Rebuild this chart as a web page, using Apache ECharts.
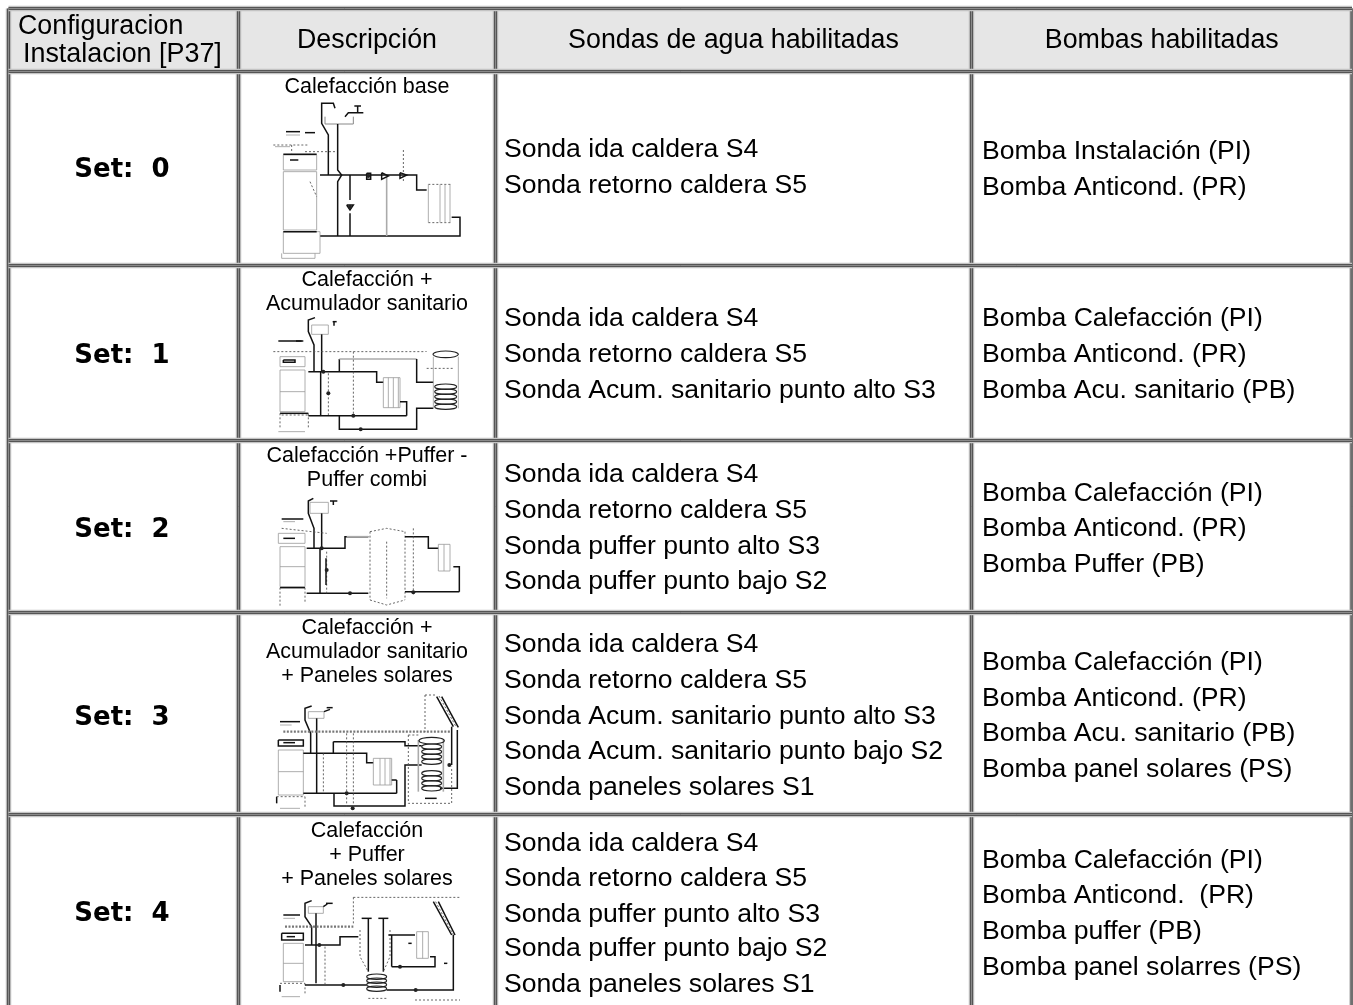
<!DOCTYPE html>
<html><head><meta charset="utf-8">
<style>html,body{margin:0;padding:0;background:#fff;overflow:hidden}#c{width:1353px;height:1005px;filter:blur(0.45px)}</style>
<script src="https://cdn.jsdelivr.net/npm/echarts@6/dist/echarts.min.js"></script></head>
<body><div id="c"></div>
<script>
// ---- table content ----
const headerTitles = ['Descripción','Sondas de agua habilitadas','Bombas habilitadas'];
const headerFirst = ['Configuracion','Instalacion [P37]'];
const setLabels = ['Set:  0','Set:  1','Set:  2','Set:  3','Set:  4'];
const descriptions = [
  ['Calefacción base'],
  ['Calefacción +','Acumulador sanitario'],
  ['Calefacción +Puffer -','Puffer combi'],
  ['Calefacción +','Acumulador sanitario','+ Paneles solares'],
  ['Calefacción','+ Puffer','+ Paneles solares']
];
const sondas = [
  ['Sonda ida caldera S4','Sonda retorno caldera S5'],
  ['Sonda ida caldera S4','Sonda retorno caldera S5','Sonda Acum. sanitario punto alto S3'],
  ['Sonda ida caldera S4','Sonda retorno caldera S5','Sonda puffer punto alto S3','Sonda puffer punto bajo S2'],
  ['Sonda ida caldera S4','Sonda retorno caldera S5','Sonda Acum. sanitario punto alto S3','Sonda Acum. sanitario punto bajo S2','Sonda paneles solares S1'],
  ['Sonda ida caldera S4','Sonda retorno caldera S5','Sonda puffer punto alto S3','Sonda puffer punto bajo S2','Sonda paneles solares S1']
];
const bombas = [
  ['Bomba Instalación (PI)','Bomba Anticond. (PR)'],
  ['Bomba Calefacción (PI)','Bomba Anticond. (PR)','Bomba Acu. sanitario (PB)'],
  ['Bomba Calefacción (PI)','Bomba Anticond. (PR)','Bomba Puffer (PB)'],
  ['Bomba Calefacción (PI)','Bomba Anticond. (PR)','Bomba Acu. sanitario (PB)','Bomba panel solares (PS)'],
  ['Bomba Calefacción (PI)','Bomba Anticond.  (PR)','Bomba puffer (PB)','Bomba panel solarres (PS)']
];
// ---- table grid, in axis units ----
const colEdges = [8.5,238.5,495.5,971.5,1352];
const rowEdges = [8.5,71.5,265.5,440.5,612.5,814.5];
const axisEnd = 1005;
const setY = [170,356,530,718,914];
const descY = [[87],[280,304],[456,480],[628,652,676],[831,855,879]];
const sondasY = [[150,186],[319,355,391],[475,511,547,582],[645,681,717,752,788],[844,879,915,949,985]];
const bombasY = [[152,188],[319,355,391],[494,529,565],[663,699,734,770],[861,896,932,968]];

// ---- schematics: [pen, x,y, x,y, ...] read from a 3x view of each description cell ----
const diagram0 = [
 ['k',965,345,965,310,1000,310,1005,325],['k',965,345,965,370,985,405,985,525],
 ['g',975,350,975,372,1060,372,1060,350],['k',1035,350,1045,338,1090,338],['k',1063,318,1083,318],['k',1073,318,1073,338],
 ['k',1013,372,1013,510,1025,525,1013,545,1013,708],
 ['k',960,525,1250,525,1250,570,1280,570],['k',960,708,1380,708,1380,652,1355,652],
 ['k',1050,525,1050,600],['k',1050,640,1050,708],['k',1040,615,1060,615,1050,630,1040,615],
 ['m',1160,525,1160,708],['d',1210,450,1210,525],['d',1210,525,1210,545],
 ['k',1145,518,1165,528,1145,538,1145,518],['k',1200,518,1220,525,1200,535,1200,518],
 ['l',850,515,950,515,950,690,850,690,850,515],['l',850,695,960,695,960,760,850,760,850,695],
 ['l',850,465,950,465,950,510,850,510,850,465],['k',850,463,950,463],['k',850,695,950,695],
 ['l',845,760,845,775,945,775,945,760],['d',930,545,950,590],['d',820,435,925,435],['d',875,435,875,460],['d',915,455,1005,455],
 ['k',858,395,900,395],['l',858,405,900,405],['k',915,398,945,398],['l',825,440,870,440],['k',870,480,895,480],
 ['d',1285,553,1355,553],['d',1285,668,1355,668],['l',1285,553,1285,668],['l',1320,553,1320,668],['l',1335,553,1335,668],['l',1350,553,1350,668],
 ['k',1100,520,1112,520,1112,538,1100,538,1100,520]
];
const diagram1 = [
 ['l',120,275,195,275,195,305,120,305,120,275],['k',130,285,165,285,165,292,130,292,130,285],
 ['l',120,315,195,315,195,440,120,440,120,315],['l',120,380,195,380],['k',120,445,205,445],['d',120,445,120,490],['d',205,445,205,490],['l',115,500,195,500],
 ['k',225,158,205,165,205,200,222,240,222,320],['l',215,180,265,180,265,208,215,208,215,180],['k',245,208,245,320],['k',242,320,242,452],['k',278,170,290,170],['k',282,170,282,182],
 ['k',205,320,410,320,410,352,430,352],['l',430,338,480,338,480,428,430,428,430,338],['l',445,338,445,428],['l',460,338,460,428],['l',475,338,475,428],
 ['k',480,410,500,410,500,452],['k',205,452,500,452],['k',298,282,298,320],['m',298,282,530,282],['k',530,282,530,352,580,352],
 ['k',298,452,298,493,530,493,530,430,580,430],['d',265,325,265,450],['k',262,385,270,385],['d',100,260,560,260],['d',340,260,340,452],
 ['l',580,275,580,430],['l',655,275,655,430],['d',560,310,640,310],['k',115,228,190,228],['k',168,228,185,228],['d',125,450,205,450]
];
const diagram1Ell = [[617,268,38,10],[617,365,33,8],[617,380,33,8],[617,395,33,8],[617,410,33,8],[617,425,33,8]];
const diagram1Dots = [[340,452],[362,493],[265,385],[250,320]];
const diagram2 = [
 ['l',115,805,195,805,195,835,115,835,115,805],['k',130,820,165,820],['l',120,845,195,845,195,965,120,965,120,845],['l',120,905,195,905],
 ['k',120,968,195,968],['d',120,968,120,1025],['d',195,968,195,1010],
 ['k',220,700,205,708,205,745,222,790,222,850],['l',210,712,265,712,265,745,210,745,210,712],['k',245,745,245,850],['k',240,850,240,985],['k',270,708,292,708],['k',280,708,280,720],
 ['k',200,850,315,850,315,815,385,815],['k',200,985,385,985],['m',320,815,385,815],
 ['d',390,800,390,1005],['d',495,800,495,1005],['d',390,800,440,790,495,800],['d',390,1005,440,1020,495,1005],
 ['d',440,830,440,1000],['k',495,815,565,815,565,850,595,850],['l',595,838,630,838,630,918,595,918,595,838],['l',612,838,612,918],
 ['k',640,905,658,905,658,980],['k',495,980,658,980],['d',260,860,260,985],['k',258,880,258,960],['d',520,790,520,990],['d',125,790,260,805],['k',125,762,190,762],['l',130,770,165,770]
];
const diagram2Dots = [[330,985],[520,982],[260,915],[245,850]];
const diagram3 = [
 ['k',115,390,190,390,190,408,115,408,115,390],['k',130,398,165,398],['l',115,420,190,420,190,555,115,555,115,420],['l',115,485,190,485],
 ['k',110,560,110,580],['d',110,560,195,560],['d',195,560,195,590],['l',120,595,180,595],
 ['k',215,288,195,295,195,330,212,370,212,430],['l',205,305,252,305,252,325,205,325,205,305],['k',252,305,270,298],['k',260,293,278,293],['k',230,325,230,550],
 ['k',190,430,380,430,380,458,400,458],['l',400,445,455,445,455,525,400,525,400,445],['l',420,445,420,525],['l',435,445,435,525],['l',450,445,450,525],
 ['k',470,510,470,550],['k',455,510,470,510],['k',190,550,470,550],['k',280,395,280,430],['k',280,395,495,395,495,407,545,407],
 ['k',282,550,282,588,495,588,495,465,545,465],['w',130,365,630,365],['d',320,370,320,590],['d',340,370,340,600],['d',250,430,250,550],
 ['d',555,255,555,365],['d',555,255,590,255],['k',590,260,640,350],['k',605,260,655,352],['d',597,258,648,350],
 ['k',635,350,635,465],['k',652,360,652,535,600,535],['d',505,375,505,580,635,580,635,470],['d',505,375,535,375],
 ['m',535,390,535,545],['m',610,390,610,545],['k',120,335,180,335],['l',120,345,155,345],['k',555,565,590,565]
];
const diagram3Ell = [[575,392,38,10],[575,410,30,8],[575,425,30,8],[575,440,30,8],[575,455,30,8],[575,490,30,8],[575,505,30,8],[575,520,30,8],[575,535,30,8]];
const diagram3Dots = [[338,595],[320,550],[628,465]];
const diagram4 = [
 ['k',125,970,190,970,190,990,125,990,125,970],['k',140,980,165,980],['l',130,1000,190,1000,190,1115,130,1115,130,1000],['l',130,1060,190,1060],
 ['k',120,1125,120,1145],['d',120,1120,195,1120],['d',195,1120,195,1150],['l',125,1160,180,1160],
 ['k',215,872,195,880,195,920,215,950,215,1005],['l',205,890,250,890,250,910,205,910,205,890],['k',250,890,262,882],['k',258,880,278,880],['k',228,910,228,1120],
 ['k',195,1005,300,1005,300,980,355,980],['w',135,950,340,950],['d',340,862,340,945],['d',340,862,660,862],
 ['k',580,875,635,975],['k',595,875,645,975],['d',587,875,640,975],['k',640,975,640,1140,440,1140],
 ['k',365,925,395,925],['k',415,925,445,925],['k',385,925,385,1085],['k',430,925,430,1085],
 ['d',360,960,360,1040,385,1085],['d',450,960,450,1040,430,1085],['d',385,1165,440,1165],
 ['k',445,975,525,975],['l',530,965,565,965,565,1045,530,1045,530,965],['l',548,965,548,1045],
 ['k',570,1040,585,1040,585,1070,455,1070],['k',455,975,455,1070],['k',195,1125,380,1125],['d',255,1010,255,1125],['d',525,1170,660,1170],
 ['k',612,1060,622,1060],['k',130,915,180,915],['l',130,925,165,925],['k',505,1000,515,1000]
];
const diagram4Ell = [[410,1100,30,8],[410,1112,30,8],[410,1124,30,8],[410,1136,30,8]];
const diagram4Dots = [[527,1140],[480,1070],[310,1125],[238,1005]];
const diagram0Ell = [], diagram0Dots = [[1050,620],[1105,528]], diagram2Ell = [];
const diagrams = [
 {lines:diagram0,ells:diagram0Ell,dots:diagram0Dots,ox:0,oy:0},
 {lines:diagram1,ells:diagram1Ell,dots:diagram1Dots,ox:240,oy:265},
 {lines:diagram2,ells:diagram2Ell,dots:diagram2Dots,ox:240,oy:265},
 {lines:diagram3,ells:diagram3Ell,dots:diagram3Dots,ox:240,oy:610},
 {lines:diagram4,ells:diagram4Ell,dots:diagram4Dots,ox:240,oy:610}
];
const pens = {
 k:{stroke:'#111',lineWidth:1.5},
 g:{stroke:'#888',lineWidth:1},
 m:{stroke:'#aaa',lineWidth:1.6},
 l:{stroke:'#999',lineWidth:0.8},
 d:{stroke:'#555',lineWidth:0.9,lineDash:[2,2]},
 w:{stroke:'#777',lineWidth:2.4,lineDash:[2,1.5]}
};

// ---- row lists for the series ----
const BODY = '"Liberation Sans", Arial, sans-serif';
const textRows = [];
headerTitles.forEach((t,i)=>textRows.push([(colEdges[i+1]+colEdges[i+2])/2,41,t,'center','26.8px '+BODY]));
textRows.push([18,27,headerFirst[0],'left','26.8px '+BODY]);
textRows.push([23,55,headerFirst[1],'left','26.9px '+BODY]);
setLabels.forEach((t,i)=>{
  textRows.push([122,setY[i],t,'center','bold 26px "DejaVu Sans", sans-serif']);
  descriptions[i].forEach((d,j)=>textRows.push([367,descY[i][j],d,'center','21.5px '+BODY]));
  sondas[i].forEach((d,j)=>textRows.push([504,sondasY[i][j],d,'left','26.6px '+BODY]));
  bombas[i].forEach((d,j)=>textRows.push([982,bombasY[i][j],d,'left','26.6px '+BODY]));
});
const chart = echarts.init(document.getElementById('c'),null,{renderer:'canvas'});
const P=(api,x,y)=>api.coord([x,y]);
chart.setOption({
  animation:false,
  backgroundColor:'#fff',
  grid:{left:0,right:0,top:0,bottom:0},
  xAxis:{type:'value',min:0,max:1353,show:false},
  yAxis:{type:'value',min:0,max:axisEnd,inverse:true,show:false},
  series:[
   {type:'custom',silent:true,clip:false,data:[[colEdges[0],rowEdges[0],colEdges[4],rowEdges[1]]],
    renderItem:(p,api)=>{const a=P(api,api.value(0),api.value(1)),b=P(api,api.value(2),api.value(3));
      return {type:'rect',shape:{x:a[0],y:a[1],width:b[0]-a[0],height:b[1]-a[1]},style:{fill:'#e6e6e6'}};}},
   {type:'custom',silent:true,clip:false,
    data:[...colEdges.map(x=>[x,rowEdges[0],x,axisEnd]),...rowEdges.map(y=>[colEdges[0],y,colEdges[4],y])],
    renderItem:(p,api)=>{const a=P(api,api.value(0),api.value(1)),b=P(api,api.value(2),api.value(3));
      const s={x1:a[0],y1:a[1],x2:b[0],y2:b[1]};
      return {type:'group',children:[
        {type:'line',shape:s,style:{stroke:'#c4c4c4',lineWidth:5.5}},
        {type:'line',shape:s,style:{stroke:'#555',lineWidth:3.2}},
        {type:'line',shape:s,style:{stroke:'#8a8a8a',lineWidth:1}}]};}},
   {type:'custom',silent:true,clip:false,data:diagrams.map((d,i)=>[i]),
    renderItem:(p,api)=>{const d=diagrams[api.value(0)];
      const m=(x,y)=>P(api,d.ox+x/3,d.oy+y/3);
      const ch=[];
      d.lines.forEach(l=>{const pts=[];for(let i=1;i<l.length;i+=2)pts.push(m(l[i],l[i+1]));
        ch.push({type:'polyline',shape:{points:pts},style:Object.assign({fill:null},pens[l[0]])});});
      d.ells.forEach(e=>{const c=m(e[0],e[1]);
        ch.push({type:'ellipse',shape:{cx:c[0],cy:c[1],rx:e[2]/3,ry:e[3]/3},style:{fill:null,stroke:'#222',lineWidth:1.1}});});
      d.dots.forEach(e=>{const c=m(e[0],e[1]);
        ch.push({type:'circle',shape:{cx:c[0],cy:c[1],r:2},style:{fill:'#222'}});});
      return {type:'group',children:ch};}},
   {type:'custom',silent:true,clip:false,data:textRows.map((r,i)=>[r[0],r[1],i]),
    renderItem:(p,api)=>{const r=textRows[api.value(2)],c=P(api,api.value(0),api.value(1));
      return {type:'text',x:c[0],y:c[1],style:{text:r[2],font:r[4],fill:'#000',align:r[3],verticalAlign:'middle'}};}}
  ]
});
</script></body></html>
